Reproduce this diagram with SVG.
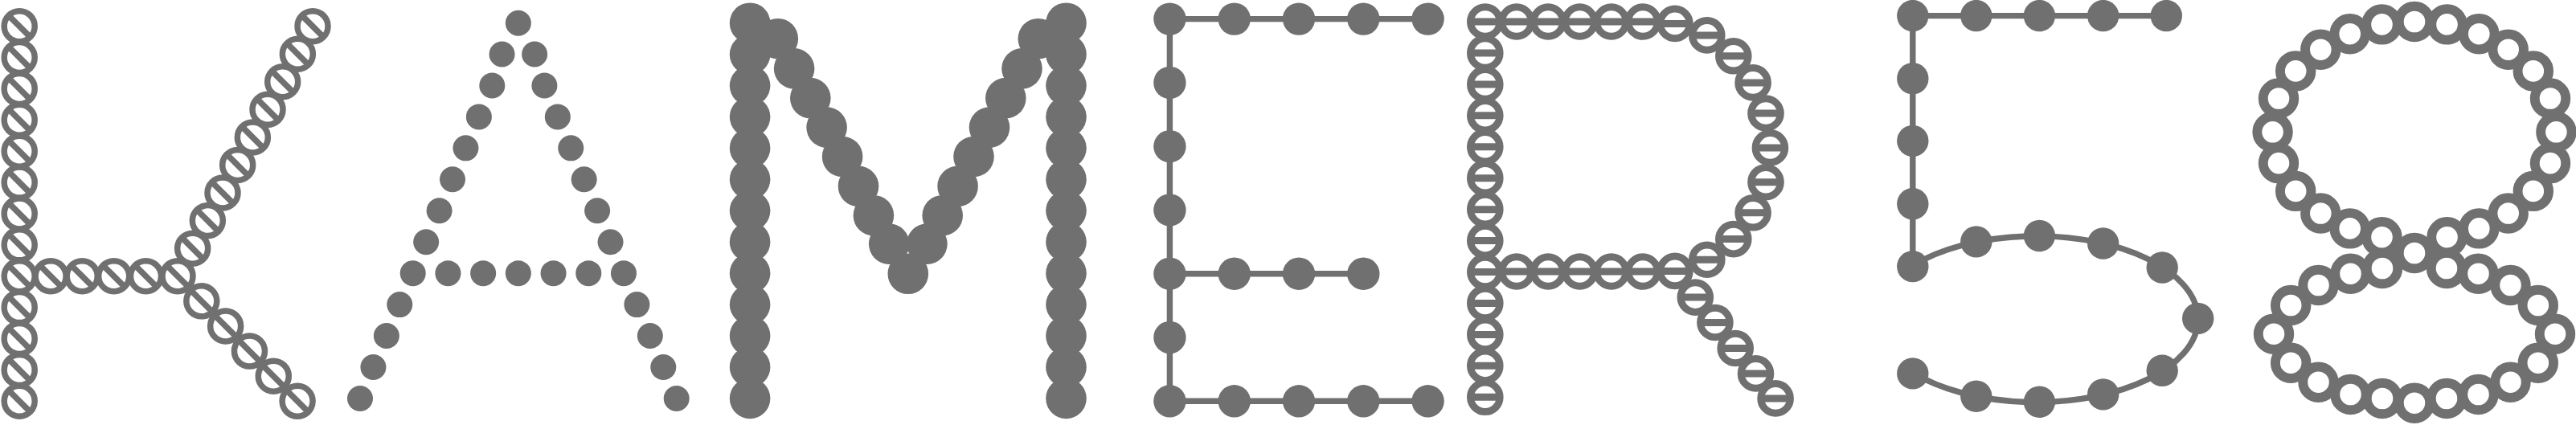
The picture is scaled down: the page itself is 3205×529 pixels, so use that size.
<svg xmlns="http://www.w3.org/2000/svg" xmlns:xlink="http://www.w3.org/1999/xlink" width="3205" height="529" viewBox="0 0 3205 529">
<style>
.conn{fill:none;stroke:#707070;stroke-width:7.4}
.dot{fill:#707070}
</style>
<defs>
<g id="kb"><circle r="19" fill="none" stroke="#707070" stroke-width="7.5"/><line x1="-13.4" y1="-13.4" x2="13.4" y2="13.4" stroke="#707070" stroke-width="7.5"/></g>
<g id="rb"><circle r="18.3" fill="none" stroke="#707070" stroke-width="9"/><line x1="-18.3" y1="0" x2="18.3" y2="0" stroke="#707070" stroke-width="9"/></g>
<circle id="ad" r="16" class="dot"/>
<circle id="md" r="25.3" class="dot"/>
<circle id="ed" r="20.2" class="dot"/>
<circle id="fd" r="19.7" class="dot"/>
<circle id="gr" r="19.25" fill="none" stroke="#707070" stroke-width="11.9"/>
</defs>
<rect width="3205" height="529" fill="#ffffff"/>
<g id="connectors">
<path class="conn" d="M1455.4 23.6H1776.6M1455.4 23.6V499.3M1455.4 340.7H1696.3M1455.4 499.3H1776.6"/>
<path class="conn" d="M2379.8 19.6H2695.3M2379.8 19.6V331.6"/>
<path class="conn" d="M2379.8 330.55A201.1 103.4 0 1 1 2379.8 463.85"/>
</g>
<g id="letter-K">
<use href="#kb" x="24.2" y="32.7"/><use href="#kb" x="24.2" y="71.58"/><use href="#kb" x="24.2" y="110.46"/><use href="#kb" x="24.2" y="149.34"/><use href="#kb" x="24.2" y="188.22"/><use href="#kb" x="24.2" y="227.1"/><use href="#kb" x="24.2" y="265.98"/><use href="#kb" x="24.2" y="304.86"/><use href="#kb" x="24.2" y="343.74"/><use href="#kb" x="24.2" y="382.62"/><use href="#kb" x="24.2" y="421.5"/><use href="#kb" x="24.2" y="460.38"/><use href="#kb" x="24.2" y="499.26"/>
<use href="#kb" x="63.1" y="343.7"/><use href="#kb" x="102.2" y="343.7"/><use href="#kb" x="141.7" y="343.7"/><use href="#kb" x="181.5" y="343.7"/><use href="#kb" x="221" y="343.7"/>
<use href="#kb" x="239.67" y="309.14"/><use href="#kb" x="258.34" y="274.58"/><use href="#kb" x="277.01" y="240.02"/><use href="#kb" x="295.68" y="205.46"/><use href="#kb" x="314.35" y="170.9"/><use href="#kb" x="333.02" y="136.34"/><use href="#kb" x="351.69" y="101.78"/><use href="#kb" x="370.36" y="67.22"/><use href="#kb" x="389.03" y="32.66"/>
<use href="#kb" x="250.82" y="374.82"/><use href="#kb" x="280.64" y="405.94"/><use href="#kb" x="310.46" y="437.06"/><use href="#kb" x="340.28" y="468.18"/><use href="#kb" x="370.1" y="499.3"/>
</g>
<g id="letter-A">
<use href="#ad" x="644.85" y="28.7"/>
<use href="#ad" x="624.55" y="67.5"/><use href="#ad" x="665.15" y="67.5"/>
<use href="#ad" x="612.3" y="106.45"/><use href="#ad" x="677.4" y="106.45"/>
<use href="#ad" x="595.87" y="145.4"/><use href="#ad" x="693.83" y="145.4"/>
<use href="#ad" x="579.44" y="184.35"/><use href="#ad" x="710.26" y="184.35"/>
<use href="#ad" x="563.01" y="223.3"/><use href="#ad" x="726.69" y="223.3"/>
<use href="#ad" x="546.58" y="262.25"/><use href="#ad" x="743.12" y="262.25"/>
<use href="#ad" x="530.15" y="301.2"/><use href="#ad" x="759.55" y="301.2"/>
<use href="#ad" x="513.72" y="340.15"/><use href="#ad" x="775.98" y="340.15"/>
<use href="#ad" x="497.29" y="379.1"/><use href="#ad" x="792.41" y="379.1"/>
<use href="#ad" x="480.86" y="418.05"/><use href="#ad" x="808.84" y="418.05"/>
<use href="#ad" x="464.43" y="457"/><use href="#ad" x="825.27" y="457"/>
<use href="#ad" x="448" y="495.95"/><use href="#ad" x="841.7" y="495.95"/>
<use href="#ad" x="557.43" y="340.15"/><use href="#ad" x="601.14" y="340.15"/><use href="#ad" x="644.85" y="340.15"/><use href="#ad" x="688.56" y="340.15"/><use href="#ad" x="732.27" y="340.15"/>
</g>
<g id="letter-M">
<use href="#md" x="933.1" y="28.7"/><use href="#md" x="933.1" y="67.63"/><use href="#md" x="933.1" y="106.56"/><use href="#md" x="933.1" y="145.49"/><use href="#md" x="933.1" y="184.42"/><use href="#md" x="933.1" y="223.35"/><use href="#md" x="933.1" y="262.28"/><use href="#md" x="933.1" y="301.21"/><use href="#md" x="933.1" y="340.14"/><use href="#md" x="933.1" y="379.07"/><use href="#md" x="933.1" y="418"/><use href="#md" x="933.1" y="456.93"/><use href="#md" x="933.1" y="495.86"/>
<use href="#md" x="1326.5" y="28.7"/><use href="#md" x="1326.5" y="67.63"/><use href="#md" x="1326.5" y="106.56"/><use href="#md" x="1326.5" y="145.49"/><use href="#md" x="1326.5" y="184.42"/><use href="#md" x="1326.5" y="223.35"/><use href="#md" x="1326.5" y="262.28"/><use href="#md" x="1326.5" y="301.21"/><use href="#md" x="1326.5" y="340.14"/><use href="#md" x="1326.5" y="379.07"/><use href="#md" x="1326.5" y="418"/><use href="#md" x="1326.5" y="456.93"/><use href="#md" x="1326.5" y="495.86"/>
<use href="#md" x="967.8" y="48.2"/><use href="#md" x="988.1" y="85.4"/><use href="#md" x="1008.3" y="122.1"/><use href="#md" x="1028.6" y="158.6"/><use href="#md" x="1048.1" y="195"/><use href="#md" x="1068" y="231.8"/><use href="#md" x="1086.9" y="268.2"/><use href="#md" x="1106.2" y="303.6"/>
<use href="#md" x="1291.8" y="48.2"/><use href="#md" x="1271.5" y="85.4"/><use href="#md" x="1251.3" y="122.1"/><use href="#md" x="1231" y="158.6"/><use href="#md" x="1211.5" y="195"/><use href="#md" x="1191.6" y="231.8"/><use href="#md" x="1172.7" y="268.2"/><use href="#md" x="1153.4" y="303.6"/>
<use href="#md" x="1129.8" y="340.8"/>
</g>
<g id="letter-E">
<use href="#ed" x="1455.4" y="23.6"/><use href="#ed" x="1535.7" y="23.6"/><use href="#ed" x="1616" y="23.6"/><use href="#ed" x="1696.3" y="23.6"/><use href="#ed" x="1776.6" y="23.6"/>
<use href="#ed" x="1455.4" y="102.9"/><use href="#ed" x="1455.4" y="182.2"/><use href="#ed" x="1455.4" y="261.4"/><use href="#ed" x="1455.4" y="340.7"/><use href="#ed" x="1455.4" y="420"/>
<use href="#ed" x="1535.7" y="340.7"/><use href="#ed" x="1616" y="340.7"/><use href="#ed" x="1696.3" y="340.7"/>
<use href="#ed" x="1455.4" y="499.3"/><use href="#ed" x="1535.7" y="499.3"/><use href="#ed" x="1616" y="499.3"/><use href="#ed" x="1696.3" y="499.3"/><use href="#ed" x="1776.6" y="499.3"/>
</g>
<g id="letter-R">
<use href="#rb" x="1847.8" y="27"/><use href="#rb" x="1847.8" y="65.94"/><use href="#rb" x="1847.8" y="104.88"/><use href="#rb" x="1847.8" y="143.82"/><use href="#rb" x="1847.8" y="182.76"/><use href="#rb" x="1847.8" y="221.7"/><use href="#rb" x="1847.8" y="260.64"/><use href="#rb" x="1847.8" y="299.58"/><use href="#rb" x="1847.8" y="338.52"/><use href="#rb" x="1847.8" y="377.46"/><use href="#rb" x="1847.8" y="416.4"/><use href="#rb" x="1847.8" y="455.34"/><use href="#rb" x="1847.8" y="494.28"/>
<use href="#rb" x="1886.9" y="27"/><use href="#rb" x="1926.2" y="27"/><use href="#rb" x="1965.5" y="27"/><use href="#rb" x="2004.8" y="27"/><use href="#rb" x="2044.1" y="27"/><use href="#rb" x="2083.9" y="29.4"/>
<use href="#rb" x="2123.8" y="43.9"/><use href="#rb" x="2156.8" y="69.8"/><use href="#rb" x="2181.1" y="102.9"/><use href="#rb" x="2197" y="141"/><use href="#rb" x="2202.4" y="183.9"/><use href="#rb" x="2197" y="226.7"/><use href="#rb" x="2181.1" y="264.8"/><use href="#rb" x="2156.8" y="297.6"/><use href="#rb" x="2123.8" y="323.2"/>
<use href="#rb" x="1886.9" y="338"/><use href="#rb" x="1926.2" y="338"/><use href="#rb" x="1965.5" y="338"/><use href="#rb" x="2004.8" y="338"/><use href="#rb" x="2044.1" y="338"/><use href="#rb" x="2083.9" y="337.4"/>
<use href="#rb" x="2109.3" y="370.1"/><use href="#rb" x="2133.9" y="401.5"/><use href="#rb" x="2159.2" y="433.5"/><use href="#rb" x="2184.5" y="464.9"/><use href="#rb" x="2209.1" y="495.9"/>
</g>
<g id="digit-5">
<use href="#fd" x="2379.8" y="19.6"/><use href="#fd" x="2458.8" y="19.6"/><use href="#fd" x="2537.4" y="19.6"/><use href="#fd" x="2616.7" y="19.6"/><use href="#fd" x="2695.3" y="19.6"/>
<use href="#fd" x="2379.8" y="97.8"/><use href="#fd" x="2379.8" y="175.4"/><use href="#fd" x="2379.8" y="253.7"/><use href="#fd" x="2379.8" y="331.6"/>
<use href="#fd" x="2458.8" y="300.9"/><use href="#fd" x="2537.4" y="293.5"/><use href="#fd" x="2616.7" y="303"/><use href="#fd" x="2690.2" y="333"/><use href="#fd" x="2734.7" y="396.4"/><use href="#fd" x="2690.2" y="461.2"/><use href="#fd" x="2616.7" y="490.9"/><use href="#fd" x="2537.4" y="500.3"/><use href="#fd" x="2458.8" y="493.3"/><use href="#fd" x="2379.8" y="464.9"/>
</g>
<g id="letter-g">
<use href="#gr" x="3004" y="27"/>
<use href="#gr" x="3044.5" y="30.4"/><use href="#gr" x="3084.3" y="42.2"/><use href="#gr" x="3120.7" y="61.7"/><use href="#gr" x="3151.8" y="88.4"/><use href="#gr" x="3173" y="122.5"/><use href="#gr" x="3180.4" y="164.3"/><use href="#gr" x="3173" y="203.1"/><use href="#gr" x="3151.8" y="237.9"/><use href="#gr" x="3120.7" y="265.5"/><use href="#gr" x="3084.3" y="284.4"/><use href="#gr" x="3044.5" y="295.2"/>
<use href="#gr" x="2963.5" y="30.4"/><use href="#gr" x="2923.7" y="42.2"/><use href="#gr" x="2887.3" y="61.7"/><use href="#gr" x="2856.2" y="88.4"/><use href="#gr" x="2835" y="122.5"/><use href="#gr" x="2827.6" y="164.3"/><use href="#gr" x="2835" y="203.1"/><use href="#gr" x="2856.2" y="237.9"/><use href="#gr" x="2887.3" y="265.5"/><use href="#gr" x="2923.7" y="284.4"/><use href="#gr" x="2963.5" y="295.2"/>
<use href="#gr" x="3004" y="315"/>
<use href="#gr" x="3044" y="334"/><use href="#gr" x="3083.5" y="340.7"/><use href="#gr" x="3123.5" y="355"/><use href="#gr" x="3157.8" y="380"/><use href="#gr" x="3179" y="415.7"/><use href="#gr" x="3157.8" y="451.7"/><use href="#gr" x="3123.5" y="475.7"/><use href="#gr" x="3083.5" y="491"/><use href="#gr" x="3044" y="496"/>
<use href="#gr" x="2964" y="334"/><use href="#gr" x="2924.5" y="340.7"/><use href="#gr" x="2884.5" y="355"/><use href="#gr" x="2850.2" y="380"/><use href="#gr" x="2829" y="415.7"/><use href="#gr" x="2850.2" y="451.7"/><use href="#gr" x="2884.5" y="475.7"/><use href="#gr" x="2924.5" y="491"/><use href="#gr" x="2964" y="496"/>
<use href="#gr" x="3004" y="501.7"/>
</g>
</svg>
